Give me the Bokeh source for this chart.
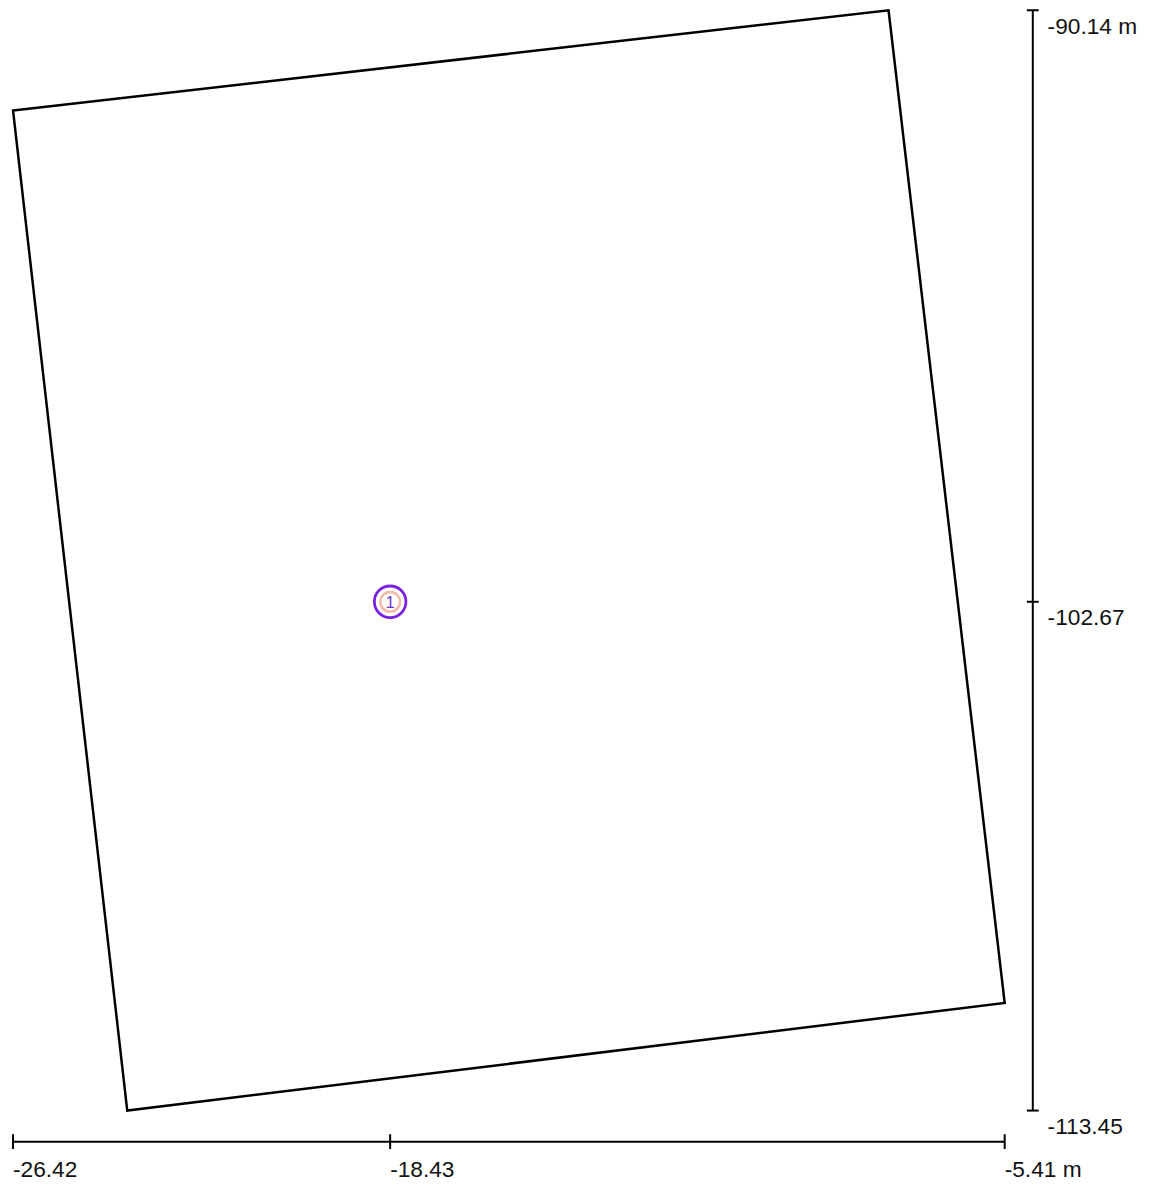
import numpy as np
from bokeh.plotting import figure
from bokeh.models import Range1d
from bokeh.core.properties import value
from bokeh.embed import file_html
from bokeh.resources import INLINE

# ---- data (metres) ----
outline_x = [-26.42, -7.87, -5.41, -24.00]
outline_y = [-92.26, -90.14, -111.17, -113.45]
point_x = [-18.43]
point_y = [-102.67]
point_labels = ["1"]
x_ticks = [-26.42, -18.43, -5.41]
x_tick_labels = ["-26.42", "-18.43", "-5.41 m"]
y_ticks = [-90.14, -102.67, -113.45]
y_tick_labels = ["-90.14 m", "-102.67", "-113.45"]

# ---- layout ----
W, H = 1146, 1182
K = 0.9864                 # figure px per reference px
S = 47.85 * K              # pixels per metre (equal aspect)
xmin, xmax = min(x_ticks), max(x_ticks)
ymin, ymax = min(y_ticks), max(y_ticks)
x0 = xmin - 12.7 * K / S
y1 = ymax + 10.0 * K / S

p = figure(width=W, height=H,
           x_range=Range1d(x0, x0 + W / S), y_range=Range1d(y1 - H / S, y1),
           output_backend="svg", toolbar_location=None, min_border=0,
           x_axis_location=None, y_axis_location=None,
           outline_line_color=None, background_fill_color="white",
           border_fill_color="white")
p.xgrid.visible = False
p.ygrid.visible = False

FONT = value("Liberation Sans")
FS = "22.7px"

# outline polygon
p.patch(outline_x, outline_y, fill_color=None, line_color="black",
        line_width=2.5, line_join="miter")

# scale bars (axes)
vbar_x = xmax + 28.5 * K / S
hbar_y = ymin - 31.5 * K / S
p.segment(x0=[vbar_x], y0=[ymin], x1=[vbar_x], y1=[ymax], line_color="black", line_width=2)
p.segment(x0=[xmin], y0=[hbar_y], x1=[xmax], y1=[hbar_y], line_color="black", line_width=2)
p.scatter(x=[vbar_x] * len(y_ticks), y=y_ticks, marker="dash", size=12 * K,
          line_color="black", line_width=2)
p.scatter(x=x_ticks, y=[hbar_y] * len(x_ticks), marker="dash", angle=np.pi / 2,
          size=15 * K, line_color="black", line_width=2)

p.text(x=[vbar_x] * len(y_ticks), y=y_ticks, text=y_tick_labels,
       x_offset=15 * K, y_offset=15.5, text_align="left", text_baseline="alphabetic",
       text_font=FONT, text_font_size=FS, text_color="#111111")
p.text(x=x_ticks, y=[hbar_y] * len(x_ticks), text=x_tick_labels,
       x_offset=0, y_offset=27.5, text_align="left", text_baseline="alphabetic",
       text_font=FONT, text_font_size=FS, text_color="#111111")

# point marker
p.scatter(point_x, point_y, marker="circle", size=32 * K, fill_color=None,
          line_color="#7a20e2", line_width=2.8)
p.scatter(point_x, point_y, marker="circle", size=20 * K, fill_color=None,
          line_color="#f4bcaa", line_width=2.5)
p.text(x=point_x, y=point_y, text=point_labels, text_align="center",
       text_baseline="middle", text_font=FONT, text_font_size="16px",
       text_color="#6a35c8")

open("out.html", "w").write(file_html(p, INLINE))
